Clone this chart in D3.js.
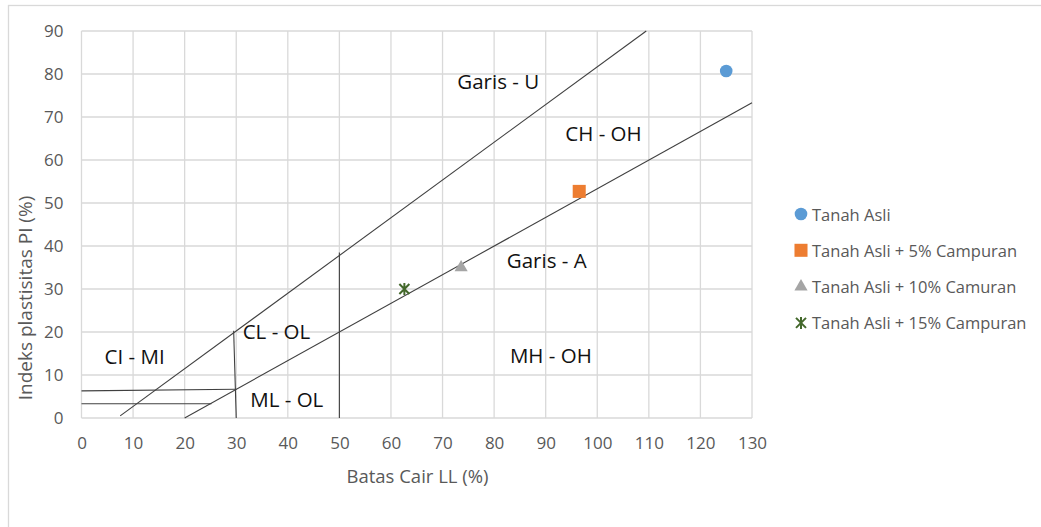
<!DOCTYPE html>
<html>
<head>
<meta charset="utf-8">
<script src="https://cdn.jsdelivr.net/npm/d3@7"></script>
<style>
  body { margin: 0; background: #fff; }
  text { font-family: "Open Sans", "Noto Sans", sans-serif; }
</style>
</head>
<body>
<div id="chart"></div>
<script>
// Tick values
const xTickValues = [0, 10, 20, 30, 40, 50, 60, 70, 80, 90, 100, 110, 120, 130];
const yTickValues = [0, 10, 20, 30, 40, 50, 60, 70, 80, 90];

// Test results (LL, PI)
const seriesNames = ["Tanah Asli", "Tanah Asli + 5% Campuran", "Tanah Asli + 10% Camuran", "Tanah Asli + 15% Campuran"];
const seriesLL = [125, 96.5, 73.6, 62.6];
const seriesPI = [80.7, 52.7, 35, 30];

// Plasticity chart boundary lines, each one [[LL, PI], [LL, PI]]
const uLine = [[7.5, 0.5], [109.5, 90]];
const aLine = [[20, 0], [130, 73.3]];
const boundaryLines = [
    uLine,
    aLine,
    [[29.5, 20.3], [30, 0]],
    [[50, 38.5], [50, 0]],
    [[0, 6.3], [30, 6.7]],
    [[0, 3.3], [25.2, 3.3]]
];

// Zone labels [LL, PI, text]
const zoneLabels = [
    [80.8, 78.3, "Garis - U"],
    [101.2, 66.3, "CH - OH"],
    [90.2, 36.8, "Garis - A"],
    [37.8, 20.3, "CL - OL"],
    [10.3, 14.5, "CI - MI"],
    [39.8, 4.5, "ML - OL"],
    [91, 14.6, "MH - OH"]
];

const width = 1041;
const height = 527;
const margin = { top: 31, right: 289, bottom: 109, left: 81.5 };

const svg = d3.select("#chart")
    .append("svg")
    .attr("width", width)
    .attr("height", height);

// Chart outer border
svg.append("rect")
    .attr("x", 8.5)
    .attr("y", 5.5)
    .attr("width", width + 10)
    .attr("height", height + 10)
    .attr("fill", "none")
    .attr("stroke", "#d9d9d9")
    .attr("stroke-width", 1.3);

const x = d3.scaleLinear()
    .domain([0, 130])
    .range([margin.left, width - margin.right]);

const y = d3.scaleLinear()
    .domain([0, 90])
    .range([height - margin.bottom, margin.top]);

// Gridlines
svg.append("g")
    .selectAll("line")
    .data(xTickValues)
    .enter()
    .append("line")
    .attr("x1", d => x(d))
    .attr("x2", d => x(d))
    .attr("y1", y(0))
    .attr("y2", y(90))
    .attr("stroke", "#d9d9d9")
    .attr("stroke-width", 1.3);

svg.append("g")
    .selectAll("line")
    .data(yTickValues)
    .enter()
    .append("line")
    .attr("x1", x(0))
    .attr("x2", x(130))
    .attr("y1", d => y(d))
    .attr("y2", d => y(d))
    .attr("stroke", "#d9d9d9")
    .attr("stroke-width", 1.3);

// Axes (labels only)
const xAxis = svg.append("g")
    .attr("transform", `translate(0, ${y(0)})`)
    .call(d3.axisBottom(x).tickValues(xTickValues).tickSize(0).tickPadding(19));
xAxis.select(".domain").remove();
xAxis.selectAll("text")
    .attr("fill", "#595959")
    .style("font-size", "17px")
    .style("font-family", "'Open Sans', sans-serif");

const yAxis = svg.append("g")
    .attr("transform", `translate(${x(0)}, 0)`)
    .call(d3.axisLeft(y).tickValues(yTickValues).tickSize(0).tickPadding(18));
yAxis.select(".domain").remove();
yAxis.selectAll("text")
    .attr("fill", "#595959")
    .style("font-size", "17px")
    .style("font-family", "'Open Sans', sans-serif");

// Axis titles
svg.append("text")
    .attr("x", 417.5)
    .attr("y", 483)
    .attr("text-anchor", "middle")
    .attr("fill", "#595959")
    .style("font-size", "18.5px")
    .text("Batas Cair LL (%)");

svg.append("text")
    .attr("transform", "rotate(-90)")
    .attr("x", -298)
    .attr("y", 32)
    .attr("text-anchor", "middle")
    .attr("fill", "#595959")
    .style("font-size", "19px")
    .text("Indeks plastisitas PI (%)");

// Boundary lines
const line = d3.line()
    .x(d => x(d[0]))
    .y(d => y(d[1]));

svg.append("g")
    .selectAll("path")
    .data(boundaryLines)
    .enter()
    .append("path")
    .attr("d", line)
    .attr("fill", "none")
    .attr("stroke", "#404040")
    .attr("stroke-width", 1.1);

// Zone labels
svg.append("g")
    .selectAll("text")
    .data(zoneLabels)
    .enter()
    .append("text")
    .attr("x", d => x(d[0]))
    .attr("y", d => y(d[1]))
    .attr("text-anchor", "middle")
    .attr("dominant-baseline", "central")
    .attr("fill", "#111")
    .style("font-size", "20.5px")
    .text(d => d[2]);

// Marker styles
const colors = ["#5b9bd5", "#ed7d31", "#a5a5a5", "#43682b"];
const shapes = [d3.symbolCircle, d3.symbolSquare, d3.symbolTriangle, null];
const sizes = [125, 170, 75, 0];

function drawMarker(g, i, cx, cy) {
    if (shapes[i]) {
        g.append("path")
            .attr("transform", `translate(${cx}, ${cy})`)
            .attr("d", d3.symbol().type(shapes[i]).size(sizes[i])())
            .attr("fill", colors[i]);
    } else {
        // star marker: X with a vertical stroke
        const r = 5;
        const p = `M${-r},${-r}L${r},${r}M${-r},${r}L${r},${-r}M0,${-r - 1}L0,${r + 1}`;
        g.append("path")
            .attr("transform", `translate(${cx}, ${cy})`)
            .attr("d", p)
            .attr("fill", "none")
            .attr("stroke", colors[i])
            .attr("stroke-width", 2);
    }
}

const points = svg.append("g");
seriesNames.forEach((name, i) => {
    drawMarker(points, i, x(seriesLL[i]), y(seriesPI[i]));
});

// Legend
const legend = svg.append("g")
    .attr("transform", "translate(801, 214)");

seriesNames.forEach((name, i) => {
    drawMarker(legend, i, 0, i * 36.3);
    legend.append("text")
        .attr("x", 11)
        .attr("y", i * 36.3)
        .attr("dominant-baseline", "central")
        .attr("fill", "#595959")
        .style("font-size", "16.5px")
        .text(name);
});
</script>
</body>
</html>
